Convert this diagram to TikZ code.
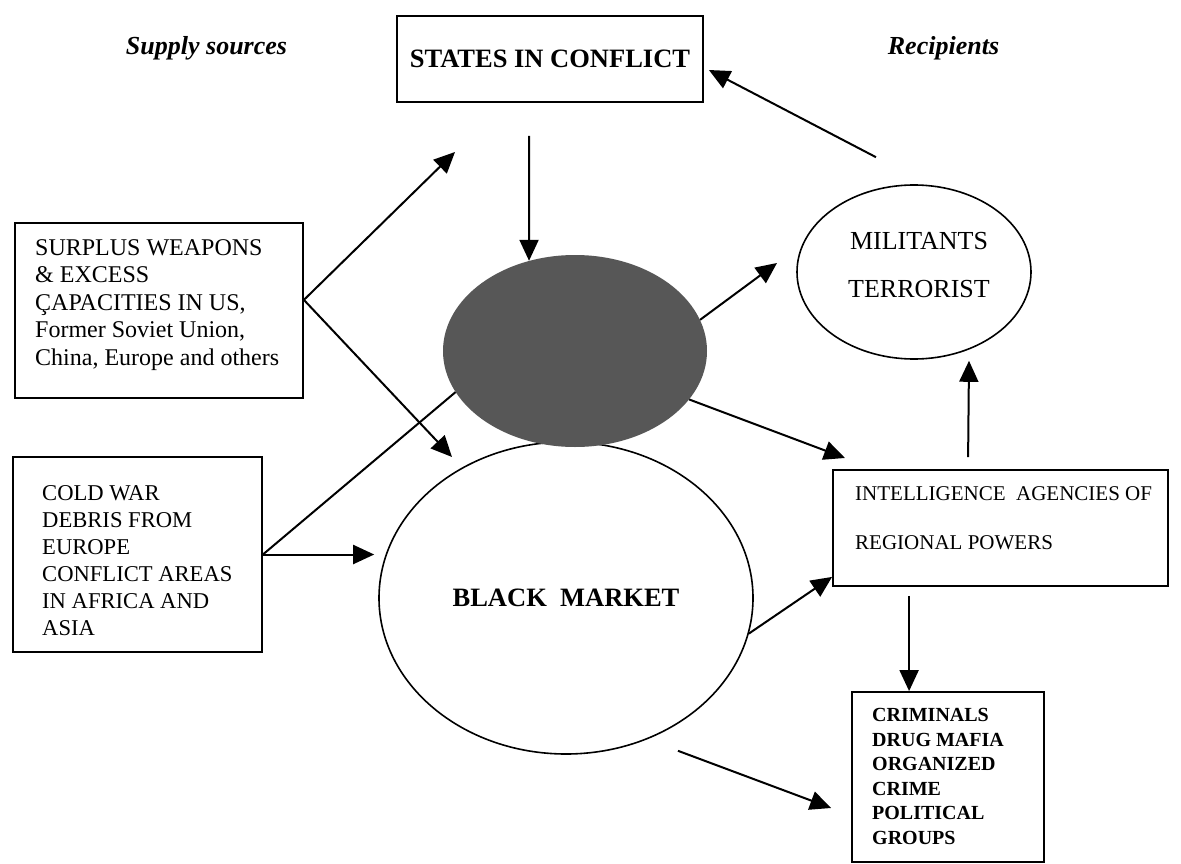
\documentclass[tikz,border=0pt]{standalone}
\usepackage{fontspec}
\setmainfont{Liberation Serif}
\usetikzlibrary{arrows.meta,shapes.geometric,calc}
\begin{document}
\begin{tikzpicture}[x=1pt,y=-1pt,
  box/.style={draw, line width=1.8pt, rectangle, inner sep=0pt},
  oval/.style={draw, line width=1.6pt, ellipse, inner sep=0pt},
  arr/.style={line width=2pt, -{Triangle[length=21pt,width=19pt]}},
  plainline/.style={line width=2pt},
  lbl/.style={inner sep=0pt, align=left, anchor=north west},
  heading/.style={anchor=base, inner sep=0pt, font=\fontsize{26}{30}\selectfont\bfseries\itshape},
]
\useasboundingbox (0,0) rectangle (1181,864);
\fill[white] (0,0) rectangle (1181,864);

% headings
\node[heading] (supply) at (206.5,55) {Supply sources};
\node[heading] (recip) at (943.5,55) {Recipients};

% boxes
\node[box, minimum width=306pt, minimum height=86pt, font=\fontsize{26.5}{30}\selectfont\bfseries] (states) at (550,59) {STATES IN CONFLICT};
\node[box, minimum width=288pt, minimum height=175pt] (surplus) at (159,310.5) {};
\node[lbl, font=\fontsize{24}{27.5}\selectfont] (surplusT) at (35,239) {SURPLUS WEAPONS\\\& EXCESS\\ÇAPACITIES IN US,\\Former Soviet Union,\\China, Europe and others};
\node[box, minimum width=249pt, minimum height=195pt] (coldwar) at (137.5,554.5) {};
\node[lbl, font=\fontsize{22.6}{27}\selectfont] (coldT) at (42,485) {COLD WAR\\DEBRIS FROM\\EUROPE\\CONFLICT AREAS\\IN AFRICA AND\\ASIA};
\node[box, minimum width=335pt, minimum height=116pt] (intel) at (1000.5,528) {};
\node[lbl, font=\fontsize{21}{49}\selectfont] (intelT) at (855,486) {INTELLIGENCE\ \ AGENCIES OF\\REGIONAL POWERS};
\node[box, minimum width=192pt, minimum height=170pt] (crim) at (948,777) {};
\node[lbl, font=\fontsize{20}{24.6}\selectfont\bfseries] (crimT) at (872,708) {CRIMINALS\\DRUG MAFIA\\ORGANIZED\\CRIME\\POLITICAL\\GROUPS};

% ellipses
\node[oval, minimum width=234pt, minimum height=174pt] (militants) at (914,272) {};
\node[inner sep=0pt, align=center, anchor=north, font=\fontsize{26}{48}\selectfont] (milT) at (919,232) {MILITANTS\\TERRORIST};
\node[oval, minimum width=374pt, minimum height=312pt, font=\fontsize{26.5}{30}\selectfont\bfseries] (bm) at (566,598) {BLACK\enspace MARKET};
\node[ellipse, fill=black!66, minimum width=264pt, minimum height=192pt, inner sep=0pt] (shaded) at (575,351) {};

% free ends
\coordinate (sj) at ($(surplus.north east)!0.44!(surplus.south east)$);
\coordinate (toStates) at (455,152);
\coordinate (toBM) at (452,457);
\coordinate (sdTop) at (529,136);
\coordinate (toMil) at (777,263);
\coordinate (toIntel) at (845,458);

% connectors
\draw[arr] (sj) -- (toStates);
\draw[arr] (sj) -- (toBM);
\draw[arr] (coldwar.east) -- ($(coldwar.east -| bm.west)+(-4,0)$);
\draw[plainline] (coldwar.east) -- (shaded.199);
\draw[arr] (shaded.14) -- (toMil);
\draw[arr] (sdTop) -- (shaded.117);
\draw[arr] (shaded.-23) -- (toIntel);
\draw[arr] (bm.-11) -- ($(intel.south west)+(0,-10)$);
\draw[arr] ($(intel.north west)+(136,-12)$) -- ($(militants.south)+(55,1)$);
\draw[arr] ($(militants.north)+(-38,-27)$) -- ($(states.east)+(5,11)$);
\draw[arr] ($(intel.south west)+(77,9)$) -- ($(crim.north west)+(58,0)$);
\draw[arr] ($(bm.south)+(112,-4)$) -- ($(crim.west)+(-20,31)$);
\end{tikzpicture}
\end{document}
